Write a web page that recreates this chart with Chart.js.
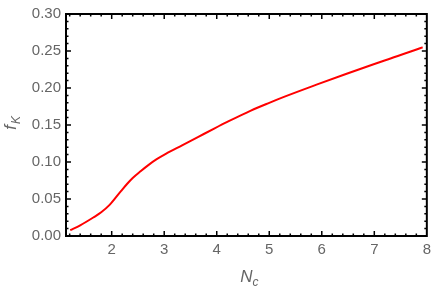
<!DOCTYPE html>
<html>
<head>
<meta charset="utf-8">
<script src="https://cdn.jsdelivr.net/npm/chart.js@4.4.0/dist/chart.umd.min.js"></script>
<style>
  html, body { margin: 0; padding: 0; background: #fff; }
  canvas { display: block; }
</style>
</head>
<body>
<canvas id="myChart" width="436" height="289"></canvas>
<script>
// values
const ncValues = [1.21, 1.40, 1.65, 1.80, 1.96, 2.18, 2.30, 2.40, 2.55, 2.71, 2.85, 3.03, 3.34, 3.65, 3.96, 4.21, 4.65, 5.00, 5.28, 5.90, 6.46, 7.21, 7.87, 7.92];
const fkValues = [0.0079, 0.0145, 0.025, 0.032, 0.042, 0.061, 0.071, 0.0785, 0.0875, 0.0965, 0.1035, 0.111, 0.1225, 0.134, 0.1455, 0.1545, 0.1695, 0.180, 0.188, 0.2045, 0.219, 0.2375, 0.2537, 0.255];
const xTicks = [2, 3, 4, 5, 6, 7, 8];
const yTicks = [0, 0.05, 0.10, 0.15, 0.20, 0.25, 0.30];

const labelColor = "#666666";

//frame with inward ticks on all four sides, plus the axis titles
const framePlugin = {
  id: "frame",
  afterDraw(chart) {
    const ctx = chart.ctx;
    const a = chart.chartArea;
    const xs = chart.scales.x;
    const ys = chart.scales.y;
    ctx.save();
    ctx.strokeStyle = "#000";
    ctx.lineWidth = 2;
    ctx.strokeRect(a.left, a.top, a.right - a.left, a.bottom - a.top);

    ctx.lineWidth = 1.5;
    function xTick(v, len) {
      const p = xs.getPixelForValue(v);
      if (p < a.left + 1 || p > a.right - 1) return;
      ctx.beginPath();
      ctx.moveTo(p, a.bottom); ctx.lineTo(p, a.bottom - len);
      ctx.moveTo(p, a.top); ctx.lineTo(p, a.top + len);
      ctx.stroke();
    }
    function yTick(v, len) {
      const p = ys.getPixelForValue(v);
      if (p < a.top + 1 || p > a.bottom - 1) return;
      ctx.beginPath();
      ctx.moveTo(a.left, p); ctx.lineTo(a.left + len, p);
      ctx.moveTo(a.right, p); ctx.lineTo(a.right - len, p);
      ctx.stroke();
    }
    for (let i = 6; i <= 40; i++) {
      xTick(i / 5, i % 5 == 0 ? 5 : 2.5);
    }
    for (let i = 0; i <= 30; i++) {
      yTick(i / 100, i % 5 == 0 ? 5 : 2.5);
    }

    // axis titles
    ctx.fillStyle = labelColor;
    ctx.textBaseline = "alphabetic";
    const cx = (a.left + a.right) / 2;
    ctx.font = "italic 17px 'Liberation Sans', Arial, sans-serif";
    ctx.textAlign = "right";
    ctx.fillText("N", cx + 6, 282);
    ctx.font = "italic 12px 'Liberation Sans', Arial, sans-serif";
    ctx.textAlign = "left";
    ctx.fillText("c", cx + 6, 286);

    const cy = (a.top + a.bottom) / 2;
    ctx.translate(16, cy);
    ctx.rotate(-Math.PI / 2);
    ctx.font = "italic 17px 'Liberation Sans', Arial, sans-serif";
    ctx.textAlign = "right";
    ctx.fillText("f", 0, 0);
    ctx.font = "italic 12px 'Liberation Sans', Arial, sans-serif";
    ctx.textAlign = "left";
    ctx.fillText("K", 1, 4);
    ctx.restore();
  }
};

const points = ncValues.map((x, i) => ({ x: x, y: fkValues[i] }));

const ctx = document.getElementById("myChart").getContext("2d");
window.chart = new Chart(ctx, {
  type: "scatter",
  data: {
    datasets: [
      {
        data: points,
        showLine: true,
        borderColor: "#ff0000",
        borderWidth: 2,
        pointRadius: 0,
        cubicInterpolationMode: "monotone",
        fill: false,
      },
    ],
  },
  options: {
    responsive: false,
    animation: false,
    devicePixelRatio: 1,
    layout: { padding: { top: 9, right: 6, left: 0, bottom: 0 } },
    plugins: { legend: { display: false }, tooltip: { enabled: false } },
    scales: {
      x: {
        type: "linear",
        min: 1.13,
        max: 8,
        grid: { display: false, drawTicks: false },
        border: { display: false },
        afterBuildTicks: (s) => { s.ticks = xTicks.map((v) => ({ value: v })); },
        afterFit: (s) => { s.height = 53; },
        ticks: {
          color: labelColor,
          padding: 5,
          maxRotation: 0,
          font: { family: "'Liberation Sans', Arial, sans-serif", size: 15 },
          callback: (v) => String(v),
        },
      },
      y: {
        type: "linear",
        min: 0,
        max: 0.3,
        grid: { display: false, drawTicks: false },
        border: { display: false },
        afterBuildTicks: (s) => { s.ticks = yTicks.map((v) => ({ value: v })); },
        afterFit: (s) => { s.width = 66; },
        ticks: {
          color: labelColor,
          padding: 5,
          font: { family: "'Liberation Sans', Arial, sans-serif", size: 15 },
          callback: (v) => Number(v).toFixed(2),
        },
      },
    },
  },
  plugins: [framePlugin],
});
</script>
</body>
</html>
